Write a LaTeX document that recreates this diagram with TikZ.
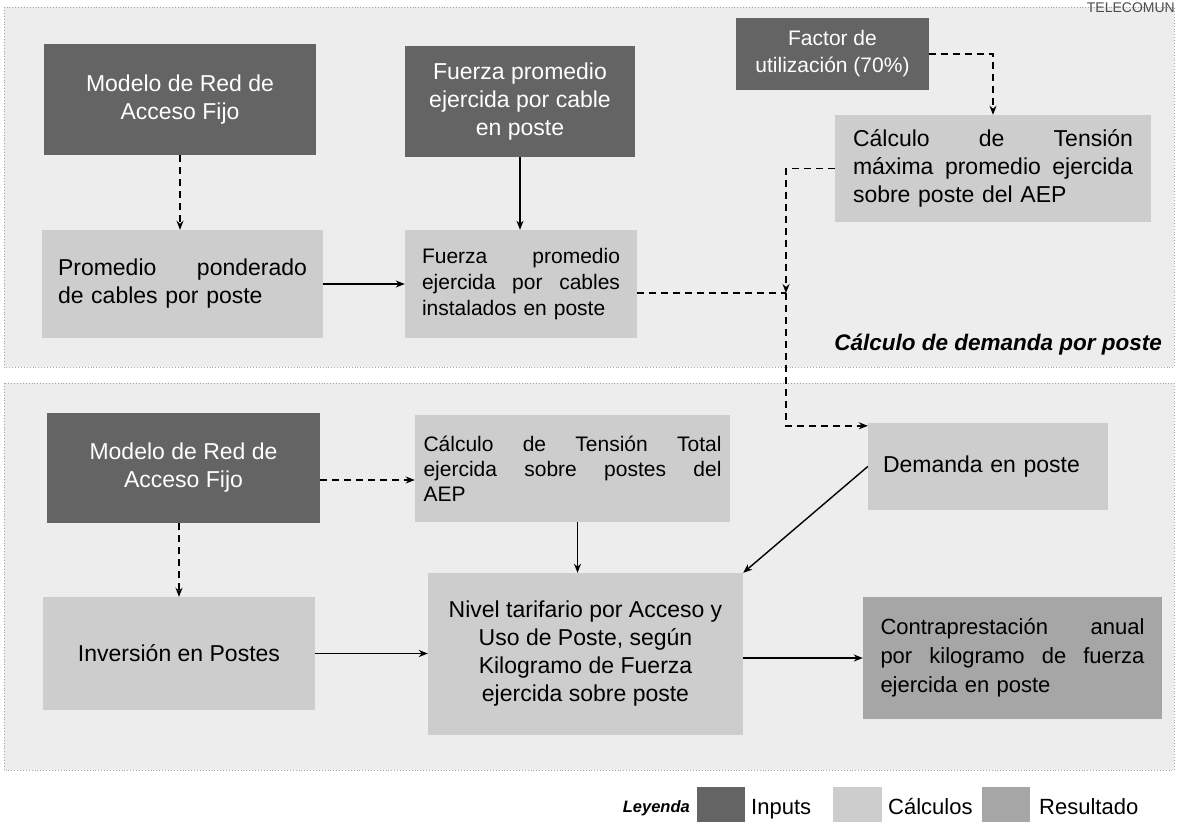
\documentclass[tikz,border=0pt]{standalone}
\usepackage{fontspec}
\setmainfont{Liberation Sans}
\usetikzlibrary{arrows.meta,calc}
\definecolor{inpc}{HTML}{646464}
\definecolor{calcc}{HTML}{CDCDCD}
\definecolor{resc}{HTML}{A6A6A6}
\definecolor{panelc}{HTML}{EDEDED}
\newcommand{\jsp}{\hskip 0pt plus 1filll\relax}
\begin{document}
\begin{tikzpicture}[x=1pt,y=-1pt,
  box/.style={rectangle, inner sep=0pt, font=\fontsize{23}{28}\selectfont, align=center},
  inp/.style={box, fill=inpc, text=white},
  calc/.style={box, fill=calcc},
  res/.style={box, fill=resc},
  conn/.style={line width=1.4pt, -{Stealth[length=9pt,width=7pt]}},
  dconn/.style={conn, dash pattern=on 7pt off 5pt},
  panel/.style={fill=panelc, draw=gray!70, dotted, line width=0.9pt},
  lbl/.style={inner sep=0pt, font=\fontsize{22}{26}\selectfont}
]
\useasboundingbox (0,0) rectangle (1177,825);
\fill[white] (0,0) rectangle (1177,825);

% panels
\draw[panel] (4,7) rectangle (1174,367);
\draw[panel] (4,383) rectangle (1174,770);

% header fragment
\node[anchor=base east, inner sep=0pt, font=\fontsize{14}{14}\selectfont, text=gray!60!black] (hdr) at (1175,12) {TELECOMUN};

% top panel nodes
\node[inp, minimum width=272pt, minimum height=111pt] (mt) at (180,99.5) {Modelo de Red de\\Acceso Fijo};
\node[inp, minimum width=230pt, minimum height=111pt] (fd) at (520,101.5) {Fuerza promedio\\ejercida por cable\\en poste};
\node[inp, minimum width=193pt, minimum height=72pt, font=\fontsize{21}{27}\selectfont] (fu) at (832.5,54) {Factor de\\utilización (70\%)};
\node[calc, minimum width=316pt, minimum height=107pt, text width=280pt, align=left] (tm) at (993,168.5) {Cálculo\jsp de\jsp Tensión\\máxima\jsp promedio\jsp ejercida\\sobre poste del AEP};
\node[calc, minimum width=281pt, minimum height=108pt, text width=249pt, align=left] (pp) at (182.5,284) {Promedio\jsp ponderado\\de cables por poste};
\node[calc, minimum width=232pt, minimum height=108pt, text width=198pt, align=left, font=\fontsize{21}{26}\selectfont] (fc) at (521,284) {Fuerza\jsp promedio\\ejercida\jsp por\jsp cables\\instalados en poste};
\node[lbl, anchor=east, font=\fontsize{22.5}{26}\selectfont\bfseries\itshape] (t1) at (1162,345) {Cálculo de demanda por poste};

% bottom panel nodes
\node[inp, minimum width=273pt, minimum height=110pt] (mb) at (183.5,468) {Modelo de Red de\\Acceso Fijo};
\node[calc, minimum width=315pt, minimum height=107pt, text width=298pt, align=left, font=\fontsize{21}{25}\selectfont] (tt) at (572.5,468.5) {Cálculo\jsp de\jsp Tensión\jsp Total\\ejercida\jsp sobre\jsp postes\jsp del\\AEP};
\node[calc, minimum width=240pt, minimum height=87pt, text width=210pt, align=left] (dm) at (988,466.5) {Demanda en poste};
\node[calc, minimum width=272pt, minimum height=113pt] (iv) at (179,653.5) {Inversión en Postes};
\node[calc, minimum width=315pt, minimum height=162pt] (nv) at (585.5,654) {Nivel tarifario por Acceso y\\Uso de Poste, según\\Kilogramo de Fuerza\\ejercida sobre poste};
\node[res, minimum width=299pt, minimum height=122pt, text width=264pt, align=left, font=\fontsize{22}{29}\selectfont] (ct) at (1012.5,658) {Contraprestación\jsp anual\\por\jsp kilogramo\jsp de\jsp fuerza\\ejercida en poste};

% junction coordinates
\coordinate (J) at (786,293);
\coordinate (K) at ([yshift=-3pt]dm.north west);

% connectors top
\draw[dconn] (mt.south) -- (mt.south |- pp.north);
\draw[conn] (fd.south) -- (fd.south |- fc.north);
\draw[conn] (pp.east) -- (fc.west);
\draw[dconn] (fu.east) -| (tm.north);
\draw[dconn] (tm.west) -| (J);
\draw[dconn, -] (fc.east |- J) -- (J);
\draw[dconn] (J) |- (K);

% connectors bottom
\draw[dconn] ([yshift=-12pt]mb.east) -- ([yshift=-12pt]mb.east -| tt.west);
\draw[dconn] (iv.north |- mb.south) -- (iv.north);
\draw[conn] ([xshift=5pt]tt.south) -- ([xshift=5pt]tt.south |- nv.north);
\draw[conn] (dm.west) -- (nv.north east);
\draw[conn] (iv.east) -- (iv.east -| nv.west);
\draw[conn] (nv.east |- ct.west) -- (ct.west);

% legend
\node[lbl, anchor=base east, font=\fontsize{16.5}{18}\selectfont\bfseries\itshape] (lg) at (690,812) {Leyenda};
\node[inp, minimum width=48pt, minimum height=35pt] (lgi) at (721,804.5) {};
\node[lbl, anchor=base west] (lgit) at (751,814) {Inputs};
\node[calc, minimum width=49pt, minimum height=35pt] (lgc) at (857.5,804.5) {};
\node[lbl, anchor=base west] (lgct) at (888,814) {Cálculos};
\node[res, minimum width=48pt, minimum height=35pt] (lgr) at (1006,804.5) {};
\node[lbl, anchor=base west] (lgrt) at (1039,814) {Resultado};
\end{tikzpicture}
\end{document}
